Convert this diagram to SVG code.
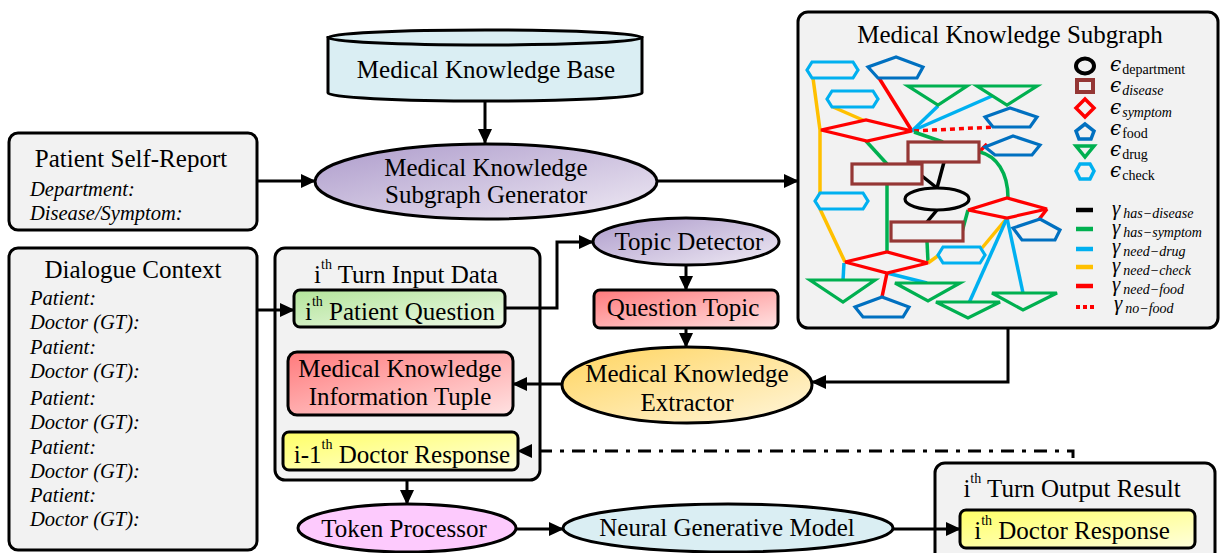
<svg xmlns="http://www.w3.org/2000/svg" width="1222" height="553" viewBox="0 0 1222 553">
<defs>
<style>
.t{font-family:"Liberation Serif","Times New Roman",serif;font-size:25px;fill:#000}
.it{font-family:"Liberation Serif","Times New Roman",serif;font-size:20.5px;font-style:italic;fill:#000}
.box{stroke:#000;stroke-width:3}
.cont{fill:#f2f2f2;stroke:#000;stroke-width:3}
.conn{fill:none;stroke:#000;stroke-width:3}
.e{fill:none;stroke-width:3.5;stroke-linecap:butt}
.n{fill:#f2f2f2;stroke-width:3.2;stroke-linejoin:miter}
.chk{stroke:#00b0f0}.fd{stroke:#0070c0}.dr{stroke:#00b050}.sy{stroke:#ff0000}.ds{stroke:#953735}
.ey{stroke:#ffc000}.eg{stroke:#00b050}.eb{stroke:#00b0f0}.er{stroke:#ff0000}.ek{stroke:#000}
.lgm{font-family:"DejaVu Serif","Liberation Serif",serif;font-size:20px;font-style:italic;fill:#000}
.lgg{font-family:"Liberation Serif","Times New Roman",serif;font-size:21px;font-style:italic;fill:#000}
.lgs{font-family:"Liberation Serif","Times New Roman",serif;font-size:14px;fill:#000}
.lgsi{font-family:"Liberation Serif","Times New Roman",serif;font-size:14px;font-style:italic;fill:#000}
</style>
<linearGradient id="gPurple" x1="0" y1="0" x2="1" y2="1"><stop offset="0" stop-color="#ad9bcb"/><stop offset="1" stop-color="#efeaf4"/></linearGradient>
<linearGradient id="gRed" x1="0" y1="0" x2="1" y2="1"><stop offset="0" stop-color="#ff7a7c"/><stop offset="1" stop-color="#ffe2e2"/></linearGradient>
<linearGradient id="gGreen" x1="0" y1="0" x2="1" y2="1"><stop offset="0" stop-color="#b3e49a"/><stop offset="1" stop-color="#eef9e8"/></linearGradient>
<linearGradient id="gYellow" x1="0" y1="0" x2="1" y2="1"><stop offset="0" stop-color="#ffff66"/><stop offset="1" stop-color="#ffffdc"/></linearGradient>
<linearGradient id="gOrange" x1="0" y1="0" x2="1" y2="1"><stop offset="0" stop-color="#ffd45e"/><stop offset="1" stop-color="#fff6dc"/></linearGradient>
<marker id="arr" markerUnits="userSpaceOnUse" markerWidth="15" markerHeight="14" refX="14" refY="7" orient="auto"><path d="M0,0 L15,7 L0,14 Z" fill="#000"/></marker>
</defs>
<rect width="1222" height="553" fill="#fff"/>

<g id="patient-self-report">
<rect class="cont" x="9" y="133" width="248" height="97" rx="9"/>
<text class="t" x="131" y="167" text-anchor="middle">Patient Self-Report</text>
<text class="it" x="30" y="196">Department:</text>
<text class="it" x="30" y="220">Disease/Symptom:</text>
</g>

<g id="dialogue-context">
<rect class="cont" x="9" y="248" width="248" height="302" rx="9"/>
<text class="t" x="133" y="278" text-anchor="middle">Dialogue Context</text>
<text class="it" x="30" y="305">Patient:</text>
<text class="it" x="30" y="329">Doctor (GT):</text>
<text class="it" x="30" y="354">Patient:</text>
<text class="it" x="30" y="378">Doctor (GT):</text>
<text class="it" x="30" y="405">Patient:</text>
<text class="it" x="30" y="429">Doctor (GT):</text>
<text class="it" x="30" y="454">Patient:</text>
<text class="it" x="30" y="478">Doctor (GT):</text>
<text class="it" x="30" y="502">Patient:</text>
<text class="it" x="30" y="526">Doctor (GT):</text>
</g>

<g id="knowledge-base">
<path class="box" fill="#daeef3" d="M328,37.5 L328,93 A157,8 0 0 0 642,93 L642,37.5 Z"/>
<ellipse class="box" fill="#daeef3" cx="485" cy="37.5" rx="157" ry="7.5"/>
<text class="t" x="486" y="78" text-anchor="middle">Medical Knowledge Base</text>
</g>

<g id="subgraph-generator">
<ellipse class="box" fill="url(#gPurple)" cx="486" cy="181.5" rx="171" ry="37.5"/>
<text class="t" x="486" y="176" text-anchor="middle">Medical Knowledge</text>
<text class="t" x="486" y="203" text-anchor="middle">Subgraph Generator</text>
</g>

<g id="knowledge-subgraph">
<rect class="cont" x="798" y="12" width="420" height="316" rx="10"/>
<text class="t" x="1010" y="43" text-anchor="middle">Medical Knowledge Subgraph</text>
<g id="subgraph-edges">
<polyline class="e ey" points="813,78 820,130 820,193"/>
<line class="e ey" x1="820" y1="209" x2="845" y2="262"/>
<line class="e ey" x1="833" y1="107" x2="865" y2="121"/>
<line class="e er" x1="879" y1="78" x2="912" y2="131"/>
<line class="e eb" x1="912" y1="131" x2="938" y2="106"/>
<line class="e eb" x1="912" y1="131" x2="992" y2="96"/>
<line class="e er" x1="914" y1="131" x2="995" y2="127" stroke-dasharray="5 4"/>
<line class="e eg" x1="914" y1="132" x2="943" y2="142"/>
<line class="e eg" x1="866" y1="141" x2="887" y2="164"/>
<line class="e ek" x1="944" y1="162" x2="937" y2="188"/>
<line class="e ek" x1="922" y1="176" x2="937" y2="188"/>
<line class="e ek" x1="937" y1="210" x2="927" y2="222"/>
<line class="e er" x1="979" y1="152" x2="987" y2="144"/>
<path class="e eg" d="M980,152 C996,156 1008,172 1008,198"/>
<line class="e eg" x1="887" y1="184" x2="887" y2="252"/>
<line class="e eg" x1="962" y1="232" x2="968" y2="210"/>
<line class="e eg" x1="927" y1="241" x2="928" y2="262"/>
<line class="e ey" x1="928" y1="263" x2="939" y2="255"/>
<line class="e ey" x1="982" y1="248" x2="1007" y2="218"/>
<line class="e er" x1="1047" y1="209" x2="1037" y2="222"/>
<line class="e eb" x1="1007" y1="218" x2="969" y2="303"/>
<line class="e eb" x1="1007" y1="218" x2="1023" y2="293"/>
<line class="e eb" x1="844" y1="263" x2="843" y2="280"/>
<line class="e eb" x1="887" y1="273" x2="927" y2="283"/>
<line class="e er" x1="887" y1="273" x2="882" y2="297"/>
</g>
<g id="subgraph-nodes">
<polygon class="n chk" points="807,70 812,62 853,62 858,70 853,78 812,78"/>
<polygon class="n chk" points="827,99 832,91 873,91 878,99 873,107 832,107"/>
<polygon class="n chk" points="815,201 820,193 863,193 868,201 863,209 820,209"/>
<polygon class="n chk" points="938,255 943,247 980,247 985,255 980,263 943,263"/>
<polygon class="n fd" points="896,57 868,67 878,78 917,78 923,67"/>
<polygon class="n fd" points="1010,108 985,117 993,127 1030,127 1037,117"/>
<polygon class="n fd" points="1013,136 985,147 995,155 1032,155 1040,145"/>
<polygon class="n fd" points="1040,219 1013,228 1022,240 1055,240 1060,230"/>
<polygon class="n fd" points="882,297 855,307 863,317 903,317 909,307"/>
<polygon class="n dr" points="908,86 967,86 938,105"/>
<polygon class="n dr" points="977,86 1037,86 1007,105"/>
<polygon class="n dr" points="810,280 875,280 843,302"/>
<polygon class="n dr" points="895,283 960,283 928,301"/>
<polygon class="n dr" points="936,302 1000,302 968,318"/>
<polygon class="n dr" points="992,293 1057,293 1023,310"/>
<polygon class="n sy" points="821,130 866,120 912,131 867,141"/>
<polygon class="n sy" points="968,210 1007,198 1047,209 1007,218"/>
<polygon class="n sy" points="845,262 887,252 928,263 887,273"/>
<rect class="n ds" x="908" y="142" width="71" height="20"/>
<rect class="n ds" x="852" y="164" width="70" height="20"/>
<rect class="n ds" x="891" y="222" width="72" height="19"/>
<ellipse class="n" stroke="#000" cx="937" cy="199" rx="32" ry="11"/>
</g>
<g id="legend">
<ellipse cx="1085" cy="66" rx="9" ry="7.5" fill="none" stroke="#000" stroke-width="4"/>
<rect x="1077" y="80" width="16" height="12" fill="#f2f2f2" stroke="#953735" stroke-width="4"/>
<polygon points="1085,99 1094,108 1085,117 1076,108" fill="#f2f2f2" stroke="#ff0000" stroke-width="3.5"/>
<polygon points="1085,124 1076,131 1079,139 1091,139 1094,131" fill="#f2f2f2" stroke="#0070c0" stroke-width="3.5"/>
<polygon points="1076,146 1094,146 1085,157" fill="#f2f2f2" stroke="#00b050" stroke-width="3.5"/>
<polygon points="1076,171 1080,164 1090,164 1094,171 1090,179 1080,179" fill="#f2f2f2" stroke="#00b0f0" stroke-width="3.5"/>
<text x="1110" y="71"><tspan class="lgm">ϵ</tspan><tspan class="lgs" dx="1" dy="3">department</tspan></text>
<text x="1110" y="92"><tspan class="lgm">ϵ</tspan><tspan class="lgsi" dx="1" dy="3">disease</tspan></text>
<text x="1110" y="114"><tspan class="lgm">ϵ</tspan><tspan class="lgsi" dx="1" dy="3">symptom</tspan></text>
<text x="1110" y="135"><tspan class="lgm">ϵ</tspan><tspan class="lgs" dx="1" dy="3">food</tspan></text>
<text x="1110" y="156"><tspan class="lgm">ϵ</tspan><tspan class="lgs" dx="1" dy="3">drug</tspan></text>
<text x="1110" y="177"><tspan class="lgm">ϵ</tspan><tspan class="lgs" dx="1" dy="3">check</tspan></text>
<line x1="1076" y1="210" x2="1093" y2="210" stroke="#000" stroke-width="4.5"/>
<line x1="1076" y1="229" x2="1093" y2="229" stroke="#00b050" stroke-width="4.5"/>
<line x1="1076" y1="249" x2="1093" y2="249" stroke="#00b0f0" stroke-width="4.5"/>
<line x1="1076" y1="267" x2="1093" y2="267" stroke="#ffc000" stroke-width="4.5"/>
<line x1="1076" y1="286" x2="1093" y2="286" stroke="#ff0000" stroke-width="4.5"/>
<line x1="1076" y1="307" x2="1094" y2="307" stroke="#ff0000" stroke-width="4" stroke-dasharray="4 3"/>
<text x="1112" y="215"><tspan class="lgg">γ</tspan><tspan class="lgsi" dx="3" dy="3">has−disease</tspan></text>
<text x="1112" y="234"><tspan class="lgg">γ</tspan><tspan class="lgsi" dx="3" dy="3">has−symptom</tspan></text>
<text x="1112" y="253"><tspan class="lgg">γ</tspan><tspan class="lgsi" dx="3" dy="3">need−drug</tspan></text>
<text x="1112" y="272"><tspan class="lgg">γ</tspan><tspan class="lgsi" dx="3" dy="3">need−check</tspan></text>
<text x="1112" y="291"><tspan class="lgg">γ</tspan><tspan class="lgsi" dx="3" dy="3">need−food</tspan></text>
<text x="1114" y="310"><tspan class="lgg">γ</tspan><tspan class="lgsi" dx="3" dy="3">no−food</tspan></text>
</g>
</g>

<g id="input-data">
<rect class="cont" x="275" y="248" width="265" height="232" rx="10"/>
<text class="t" x="406" y="283" text-anchor="middle">i<tspan font-size="14" dy="-14">th</tspan><tspan dy="14"> Turn Input Data</tspan></text>
</g>
<g id="patient-question">
<rect class="box" fill="url(#gGreen)" x="294" y="290" width="211" height="37" rx="6"/>
<text class="t" x="400" y="320" text-anchor="middle">i<tspan font-size="14" dy="-14">th</tspan><tspan dy="14"> Patient Question</tspan></text>
</g>
<g id="info-tuple">
<rect class="box" fill="url(#gRed)" x="288" y="352" width="225" height="63" rx="9"/>
<text class="t" x="400" y="377" text-anchor="middle">Medical Knowledge</text>
<text class="t" x="400" y="405" text-anchor="middle">Information Tuple</text>
</g>
<g id="prev-doctor-response">
<rect class="box" fill="url(#gYellow)" x="283" y="432" width="235" height="38" rx="6"/>
<text class="t" x="402" y="463" text-anchor="middle">i-1<tspan font-size="14" dy="-14">th</tspan><tspan dy="14"> Doctor Response</tspan></text>
</g>

<g id="topic-detector">
<ellipse class="box" fill="url(#gPurple)" cx="686" cy="241.5" rx="93" ry="23.5"/>
<text class="t" x="689" y="250" text-anchor="middle">Topic Detector</text>
</g>
<g id="question-topic">
<rect class="box" fill="url(#gRed)" x="594" y="290" width="184" height="38" rx="6"/>
<text class="t" x="683" y="316" text-anchor="middle">Question Topic</text>
</g>
<g id="knowledge-extractor">
<ellipse class="box" fill="url(#gOrange)" cx="687" cy="385" rx="125" ry="38"/>
<text class="t" x="687" y="382" text-anchor="middle">Medical Knowledge</text>
<text class="t" x="687" y="411" text-anchor="middle">Extractor</text>
</g>

<g id="token-processor">
<ellipse class="box" fill="#fdcafd" cx="407" cy="528" rx="109" ry="24"/>
<text class="t" x="404" y="537" text-anchor="middle">Token Processor</text>
</g>
<g id="neural-generative-model">
<ellipse class="box" fill="#daeef3" cx="728" cy="528" rx="165" ry="24"/>
<text class="t" x="727" y="536" text-anchor="middle">Neural Generative Model</text>
</g>

<g id="output-result">
<rect class="cont" x="935" y="463" width="280" height="110" rx="10"/>
<text class="t" x="1072" y="497" text-anchor="middle">i<tspan font-size="14" dy="-14">th</tspan><tspan dy="14"> Turn Output Result</tspan></text>
</g>
<g id="doctor-response">
<rect class="box" fill="url(#gYellow)" x="960" y="510" width="235" height="38" rx="6"/>
<text class="t" x="1072" y="539" text-anchor="middle">i<tspan font-size="14" dy="-14">th</tspan><tspan dy="14"> Doctor Response</tspan></text>
</g>

<g id="connectors">
<path class="conn" d="M485,101 V143" marker-end="url(#arr)"/>
<path class="conn" d="M257,181 H315" marker-end="url(#arr)"/>
<path class="conn" d="M657,181 H798" marker-end="url(#arr)"/>
<path class="conn" d="M257,310 H294" marker-end="url(#arr)"/>
<path class="conn" d="M505,308 H557 V242 H593" marker-end="url(#arr)"/>
<path class="conn" d="M686,265 V290" marker-end="url(#arr)"/>
<path class="conn" d="M686,328 V347" marker-end="url(#arr)"/>
<path class="conn" d="M1008,328 V382 H812" marker-end="url(#arr)"/>
<path class="conn" d="M562,384 H513" marker-end="url(#arr)"/>
<path class="conn" d="M1073,458 V451 H518" stroke-dasharray="13 8 4 8" marker-end="url(#arr)"/>
<path class="conn" d="M407,480 V504" marker-end="url(#arr)"/>
<path class="conn" d="M516,529 H563" marker-end="url(#arr)"/>
<path class="conn" d="M893,529 H960" marker-end="url(#arr)"/>
</g>
</svg>
